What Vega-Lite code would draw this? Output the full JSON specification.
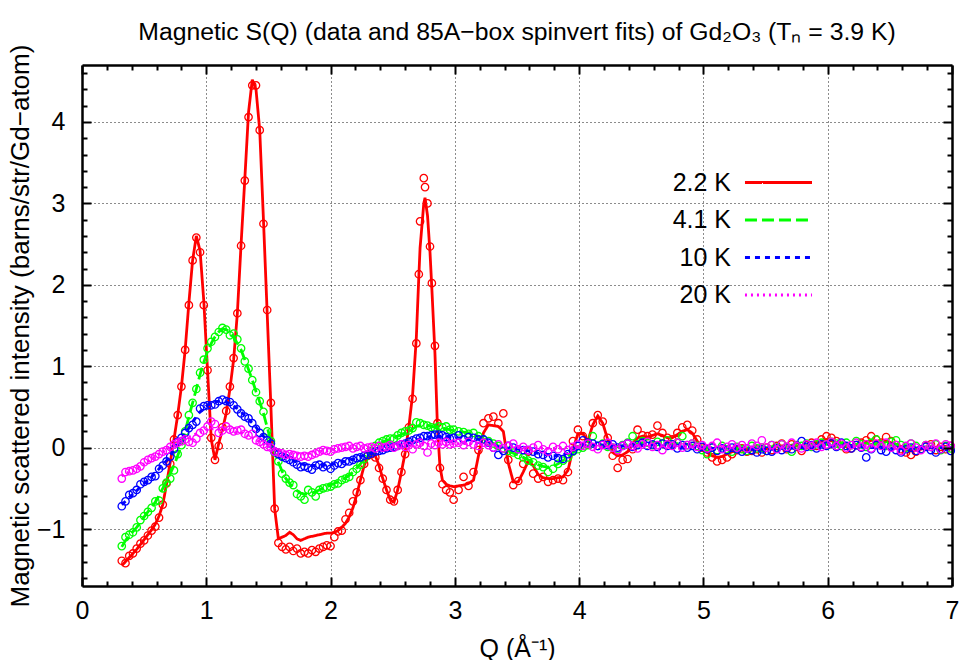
{
"$schema":"https://vega.github.io/schema/vega-lite/v6.json",
"width":870,"height":521,
"autosize":{"type":"none"},
"padding":{"left":82,"top":65,"right":10,"bottom":74},
"background":"white",
"title":{"text":"Magnetic S(Q) (data and 85A−box spinvert fits) of Gd₂O₃ (Tₙ = 3.9 K)","font":"Liberation Sans","fontSize":24.75,"fontWeight":"normal","color":"#000","anchor":"middle","frame":"group","baseline":"alphabetic","offset":-21},
"config":{
"view":{"stroke":null},
"font":"Liberation Sans",
"axis":{"labelFont":"Liberation Sans","titleFont":"Liberation Sans","labelFontSize":25,"titleFontSize":25,"titleFontWeight":"normal","labelColor":"#000","titleColor":"#000","domainColor":"#000","domainWidth":2.5,"tickColor":"#000","tickWidth":2,"grid":false,"gridColor":"#000","gridDash":[1,3],"gridWidth":1,"gridOpacity":0.9,"labelFlush":false,"labelOverlap":false},
"legend":{"orient":"none","legendX":684,"legendY":105,"symbolSize":281,"symbolStrokeWidth":2.8,"labelFontSize":25,"labelFont":"Liberation Sans","labelColor":"#000","labelAlign":"right","labelOffset":-60,"rowPadding":11.5,"padding":0}
},
"data":{"values":[
{"s":"2.2 K","q":0.32,"d":-1.39,"f":-1.45},{"s":"2.2 K","q":0.35,"d":-1.42,"f":-1.40},{"s":"2.2 K","q":0.38,"d":-1.33,"f":-1.35},{"s":"2.2 K","q":0.41,"d":-1.30,"f":-1.30},{"s":"2.2 K","q":0.44,"d":-1.24,"f":-1.25},{"s":"2.2 K","q":0.47,"d":-1.18,"f":-1.19},{"s":"2.2 K","q":0.50,"d":-1.14,"f":-1.13},{"s":"2.2 K","q":0.53,"d":-1.08,"f":-1.07},{"s":"2.2 K","q":0.56,"d":-1.02,"f":-1.01},{"s":"2.2 K","q":0.59,"d":-0.97,"f":-0.94},
{"s":"2.2 K","q":0.62,"d":-0.86,"f":-0.84},{"s":"2.2 K","q":0.65,"d":-0.70,"f":-0.70},{"s":"2.2 K","q":0.68,"d":-0.44,"f":-0.45},{"s":"2.2 K","q":0.71,"d":-0.20,"f":-0.18},{"s":"2.2 K","q":0.74,"d":0.10,"f":0.10},{"s":"2.2 K","q":0.77,"d":0.40,"f":0.40},{"s":"2.2 K","q":0.80,"d":0.75,"f":0.75},{"s":"2.2 K","q":0.83,"d":1.20,"f":1.20},{"s":"2.2 K","q":0.86,"d":1.75,"f":1.78},{"s":"2.2 K","q":0.89,"d":2.30,"f":2.30},
{"s":"2.2 K","q":0.92,"d":2.58,"f":2.60},{"s":"2.2 K","q":0.95,"d":2.40,"f":2.42},{"s":"2.2 K","q":0.98,"d":1.75,"f":1.80},{"s":"2.2 K","q":1.01,"d":0.95,"f":0.95},{"s":"2.2 K","q":1.04,"d":0.12,"f":0.10},{"s":"2.2 K","q":1.07,"d":-0.15,"f":-0.15},{"s":"2.2 K","q":1.10,"d":0.02,"f":0.05},{"s":"2.2 K","q":1.13,"d":0.25,"f":0.22},{"s":"2.2 K","q":1.16,"d":0.45,"f":0.42},{"s":"2.2 K","q":1.19,"d":0.75,"f":0.72},
{"s":"2.2 K","q":1.22,"d":1.10,"f":1.08},{"s":"2.2 K","q":1.25,"d":1.65,"f":1.65},{"s":"2.2 K","q":1.28,"d":2.48,"f":2.50},{"s":"2.2 K","q":1.31,"d":3.28,"f":3.30},{"s":"2.2 K","q":1.34,"d":4.06,"f":4.12},{"s":"2.2 K","q":1.37,"d":4.45,"f":4.52},{"s":"2.2 K","q":1.40,"d":4.45,"f":4.40},{"s":"2.2 K","q":1.43,"d":3.90,"f":3.90},{"s":"2.2 K","q":1.46,"d":2.75,"f":2.80},{"s":"2.2 K","q":1.49,"d":1.69,"f":1.65},
{"s":"2.2 K","q":1.52,"d":0.55,"f":0.50},{"s":"2.2 K","q":1.55,"d":-0.75,"f":-0.75},{"s":"2.2 K","q":1.58,"d":-1.17,"f":-1.12},{"s":"2.2 K","q":1.61,"d":-1.22,"f":-1.10},{"s":"2.2 K","q":1.64,"d":-1.25,"f":-1.08},{"s":"2.2 K","q":1.67,"d":-1.22,"f":-1.04},{"s":"2.2 K","q":1.70,"d":-1.27,"f":-1.07},{"s":"2.2 K","q":1.73,"d":-1.24,"f":-1.12},{"s":"2.2 K","q":1.76,"d":-1.30,"f":-1.14},{"s":"2.2 K","q":1.79,"d":-1.28,"f":-1.12},
{"s":"2.2 K","q":1.82,"d":-1.30,"f":-1.10},{"s":"2.2 K","q":1.85,"d":-1.26,"f":-1.09},{"s":"2.2 K","q":1.88,"d":-1.28,"f":-1.08},{"s":"2.2 K","q":1.91,"d":-1.24,"f":-1.07},{"s":"2.2 K","q":1.94,"d":-1.22,"f":-1.06},{"s":"2.2 K","q":1.97,"d":-1.20,"f":-1.05},{"s":"2.2 K","q":2.00,"d":-1.21,"f":-1.05},{"s":"2.2 K","q":2.03,"d":-1.10,"f":-1.04},{"s":"2.2 K","q":2.06,"d":-1.03,"f":-1.02},{"s":"2.2 K","q":2.09,"d":-1.02,"f":-0.98},
{"s":"2.2 K","q":2.12,"d":-0.88,"f":-0.93},{"s":"2.2 K","q":2.15,"d":-0.80,"f":-0.85},{"s":"2.2 K","q":2.18,"d":-0.66,"f":-0.74},{"s":"2.2 K","q":2.21,"d":-0.55,"f":-0.58},{"s":"2.2 K","q":2.24,"d":-0.40,"f":-0.40},{"s":"2.2 K","q":2.27,"d":-0.20,"f":-0.22},{"s":"2.2 K","q":2.30,"d":-0.10,"f":-0.12},{"s":"2.2 K","q":2.33,"d":-0.08,"f":-0.08},{"s":"2.2 K","q":2.36,"d":-0.12,"f":-0.10},{"s":"2.2 K","q":2.39,"d":-0.25,"f":-0.22},
{"s":"2.2 K","q":2.42,"d":-0.38,"f":-0.38},{"s":"2.2 K","q":2.45,"d":-0.52,"f":-0.52},{"s":"2.2 K","q":2.48,"d":-0.64,"f":-0.64},{"s":"2.2 K","q":2.51,"d":-0.66,"f":-0.67},{"s":"2.2 K","q":2.54,"d":-0.52,"f":-0.52},{"s":"2.2 K","q":2.57,"d":-0.30,"f":-0.30},{"s":"2.2 K","q":2.60,"d":-0.08,"f":-0.06},{"s":"2.2 K","q":2.63,"d":0.25,"f":0.26},{"s":"2.2 K","q":2.66,"d":0.60,"f":0.65},{"s":"2.2 K","q":2.69,"d":1.28,"f":1.35},
{"s":"2.2 K","q":2.71,"d":2.13,"f":2.10},{"s":"2.2 K","q":2.72,"d":2.78,"f":2.45},{"s":"2.2 K","q":2.75,"d":3.31,"f":3.00},{"s":"2.2 K","q":2.76,"d":3.20,"f":3.07},{"s":"2.2 K","q":2.78,"d":3.00,"f":2.85},{"s":"2.2 K","q":2.80,"d":2.47,"f":2.40},{"s":"2.2 K","q":2.815,"d":2.02,"f":1.95},{"s":"2.2 K","q":2.84,"d":1.25,"f":1.15},{"s":"2.2 K","q":2.86,"d":0.30,"f":0.25},{"s":"2.2 K","q":2.88,"d":-0.25,"f":-0.23},
{"s":"2.2 K","q":2.90,"d":-0.45,"f":-0.40},{"s":"2.2 K","q":2.93,"d":-0.52,"f":-0.45},{"s":"2.2 K","q":2.96,"d":-0.55,"f":-0.47},{"s":"2.2 K","q":2.99,"d":-0.64,"f":-0.48},
{"s":"2.2 K","q":3.03,"d":-0.52,"f":-0.47},{"s":"2.2 K","q":3.07,"d":-0.36,"f":-0.46},{"s":"2.2 K","q":3.11,"d":-0.47,"f":-0.44},{"s":"2.2 K","q":3.15,"d":-0.30,"f":-0.40},{"s":"2.2 K","q":3.19,"d":-0.03,"f":-0.10},{"s":"2.2 K","q":3.23,"d":0.30,"f":0.18},{"s":"2.2 K","q":3.27,"d":0.36,"f":0.28},{"s":"2.2 K","q":3.31,"d":0.38,"f":0.27},{"s":"2.2 K","q":3.35,"d":0.30,"f":0.26},{"s":"2.2 K","q":3.39,"d":0.42,"f":0.20},
{"s":"2.2 K","q":3.43,"d":-0.15,"f":-0.19},{"s":"2.2 K","q":3.47,"d":-0.46,"f":-0.42},{"s":"2.2 K","q":3.51,"d":-0.41,"f":-0.42},{"s":"2.2 K","q":3.55,"d":-0.20,"f":-0.30},{"s":"2.2 K","q":3.59,"d":-0.05,"f":-0.17},{"s":"2.2 K","q":3.63,"d":-0.32,"f":-0.22},{"s":"2.2 K","q":3.67,"d":-0.38,"f":-0.33},{"s":"2.2 K","q":3.71,"d":-0.36,"f":-0.37},{"s":"2.2 K","q":3.75,"d":-0.42,"f":-0.38},{"s":"2.2 K","q":3.79,"d":-0.40,"f":-0.38},
{"s":"2.2 K","q":3.83,"d":-0.38,"f":-0.37},{"s":"2.2 K","q":3.87,"d":-0.40,"f":-0.36},{"s":"2.2 K","q":3.91,"d":-0.30,"f":-0.28},{"s":"2.2 K","q":3.95,"d":0.08,"f":-0.02},{"s":"2.2 K","q":3.99,"d":0.22,"f":0.17},{"s":"2.2 K","q":4.03,"d":0.14,"f":0.17},{"s":"2.2 K","q":4.07,"d":0.04,"f":0.08},{"s":"2.2 K","q":4.11,"d":0.30,"f":0.28},{"s":"2.2 K","q":4.15,"d":0.40,"f":0.39},{"s":"2.2 K","q":4.19,"d":0.32,"f":0.30},
{"s":"2.2 K","q":4.23,"d":0.12,"f":0.10},{"s":"2.2 K","q":4.27,"d":-0.10,"f":-0.06},{"s":"2.2 K","q":4.31,"d":-0.25,"f":-0.10},{"s":"2.2 K","q":4.35,"d":-0.15,"f":-0.09},{"s":"2.2 K","q":4.39,"d":-0.14,"f":-0.05},{"s":"2.2 K","q":4.43,"d":-0.02,"f":0.05},{"s":"2.2 K","q":4.47,"d":0.22,"f":0.12},{"s":"2.2 K","q":4.51,"d":0.15,"f":0.14},{"s":"2.2 K","q":4.55,"d":0.14,"f":0.13},{"s":"2.2 K","q":4.59,"d":0.16,"f":0.15},
{"s":"2.2 K","q":4.63,"d":0.27,"f":0.17},{"s":"2.2 K","q":4.67,"d":0.18,"f":0.15},{"s":"2.2 K","q":4.71,"d":0.12,"f":0.12},{"s":"2.2 K","q":4.75,"d":0.10,"f":0.12},{"s":"2.2 K","q":4.79,"d":0.18,"f":0.16},{"s":"2.2 K","q":4.83,"d":0.25,"f":0.20},{"s":"2.2 K","q":4.87,"d":0.28,"f":0.22},{"s":"2.2 K","q":4.91,"d":0.21,"f":0.18},{"s":"2.2 K","q":4.95,"d":0.10,"f":0.08},{"s":"2.2 K","q":4.99,"d":0.00,"f":-0.02},
{"s":"2.2 K","q":5.03,"d":-0.06,"f":-0.06},{"s":"2.2 K","q":5.07,"d":-0.12,"f":-0.10},{"s":"2.2 K","q":5.11,"d":-0.17,"f":-0.12},{"s":"2.2 K","q":5.15,"d":-0.15,"f":-0.11},{"s":"2.2 K","q":5.19,"d":-0.12,"f":-0.08},{"s":"2.2 K","q":5.23,"d":-0.08,"f":-0.05},{"s":"2.2 K","q":5.27,"d":-0.03,"f":-0.03},{"s":"2.2 K","q":5.31,"d":-0.01,"f":-0.02},{"s":"2.2 K","q":5.35,"d":-0.05,"f":-0.03},{"s":"2.2 K","q":5.39,"d":-0.04,"f":-0.03},
{"s":"2.2 K","q":5.43,"d":-0.02,"f":-0.02},{"s":"2.2 K","q":5.47,"d":-0.06,"f":-0.03},{"s":"2.2 K","q":5.51,"d":0.00,"f":-0.01},{"s":"2.2 K","q":5.55,"d":-0.03,"f":0.00},{"s":"2.2 K","q":5.59,"d":0.02,"f":0.01},{"s":"2.2 K","q":5.63,"d":0.05,"f":0.02},{"s":"2.2 K","q":5.67,"d":-0.02,"f":0.02},{"s":"2.2 K","q":5.71,"d":0.04,"f":0.03},{"s":"2.2 K","q":5.75,"d":0.01,"f":0.02},{"s":"2.2 K","q":5.79,"d":-0.04,"f":0.02},
{"s":"2.2 K","q":5.83,"d":0.03,"f":0.03},{"s":"2.2 K","q":5.87,"d":0.06,"f":0.05},{"s":"2.2 K","q":5.91,"d":0.02,"f":0.06},{"s":"2.2 K","q":5.95,"d":0.10,"f":0.08},{"s":"2.2 K","q":5.99,"d":0.14,"f":0.10},{"s":"2.2 K","q":6.03,"d":0.12,"f":0.09},{"s":"2.2 K","q":6.07,"d":0.08,"f":0.06},{"s":"2.2 K","q":6.11,"d":0.02,"f":0.03},{"s":"2.2 K","q":6.15,"d":-0.02,"f":0.01},{"s":"2.2 K","q":6.19,"d":-0.01,"f":0.01},
{"s":"2.2 K","q":6.23,"d":0.03,"f":0.03},{"s":"2.2 K","q":6.27,"d":0.06,"f":0.04},{"s":"2.2 K","q":6.31,"d":0.09,"f":0.07},{"s":"2.2 K","q":6.35,"d":0.14,"f":0.09},{"s":"2.2 K","q":6.39,"d":0.10,"f":0.08},{"s":"2.2 K","q":6.43,"d":0.06,"f":0.07},{"s":"2.2 K","q":6.47,"d":0.13,"f":0.08},{"s":"2.2 K","q":6.51,"d":0.08,"f":0.06},{"s":"2.2 K","q":6.55,"d":0.03,"f":0.04},{"s":"2.2 K","q":6.59,"d":-0.02,"f":0.01},
{"s":"2.2 K","q":6.63,"d":-0.06,"f":-0.02},{"s":"2.2 K","q":6.67,"d":-0.09,"f":-0.04},{"s":"2.2 K","q":6.71,"d":-0.05,"f":-0.03},{"s":"2.2 K","q":6.75,"d":-0.02,"f":-0.02},{"s":"2.2 K","q":6.79,"d":0.02,"f":0.00},{"s":"2.2 K","q":6.83,"d":0.04,"f":0.01},{"s":"2.2 K","q":6.87,"d":-0.03,"f":0.00},{"s":"2.2 K","q":6.91,"d":0.01,"f":0.00},{"s":"2.2 K","q":6.95,"d":-0.02,"f":-0.01},{"s":"2.2 K","q":6.99,"d":0.02,"f":0.00},

{"s":"4.1 K","q":0.32,"d":-1.21,"f":-1.22},{"s":"4.1 K","q":0.35,"d":-1.10,"f":-1.14},{"s":"4.1 K","q":0.38,"d":-1.07,"f":-1.08},{"s":"4.1 K","q":0.41,"d":-1.04,"f":-1.03},{"s":"4.1 K","q":0.44,"d":-0.98,"f":-0.98},{"s":"4.1 K","q":0.47,"d":-0.89,"f":-0.92},{"s":"4.1 K","q":0.50,"d":-0.84,"f":-0.85},{"s":"4.1 K","q":0.53,"d":-0.79,"f":-0.79},{"s":"4.1 K","q":0.56,"d":-0.74,"f":-0.73},{"s":"4.1 K","q":0.59,"d":-0.66,"f":-0.67},
{"s":"4.1 K","q":0.62,"d":-0.65,"f":-0.59},{"s":"4.1 K","q":0.65,"d":-0.50,"f":-0.50},{"s":"4.1 K","q":0.68,"d":-0.43,"f":-0.41},{"s":"4.1 K","q":0.71,"d":-0.38,"f":-0.32},{"s":"4.1 K","q":0.74,"d":-0.28,"f":-0.22},{"s":"4.1 K","q":0.77,"d":-0.08,"f":-0.10},{"s":"4.1 K","q":0.80,"d":0.03,"f":0.03},{"s":"4.1 K","q":0.83,"d":0.20,"f":0.20},{"s":"4.1 K","q":0.86,"d":0.40,"f":0.38},{"s":"4.1 K","q":0.89,"d":0.55,"f":0.55},
{"s":"4.1 K","q":0.92,"d":0.72,"f":0.72},{"s":"4.1 K","q":0.95,"d":0.92,"f":0.90},{"s":"4.1 K","q":0.98,"d":1.08,"f":1.05},{"s":"4.1 K","q":1.01,"d":1.22,"f":1.18},{"s":"4.1 K","q":1.04,"d":1.30,"f":1.28},{"s":"4.1 K","q":1.07,"d":1.36,"f":1.36},{"s":"4.1 K","q":1.10,"d":1.42,"f":1.42},{"s":"4.1 K","q":1.13,"d":1.47,"f":1.46},{"s":"4.1 K","q":1.16,"d":1.45,"f":1.45},{"s":"4.1 K","q":1.19,"d":1.38,"f":1.42},
{"s":"4.1 K","q":1.22,"d":1.40,"f":1.36},{"s":"4.1 K","q":1.25,"d":1.33,"f":1.28},{"s":"4.1 K","q":1.28,"d":1.22,"f":1.20},{"s":"4.1 K","q":1.31,"d":1.06,"f":1.08},{"s":"4.1 K","q":1.34,"d":0.97,"f":0.96},{"s":"4.1 K","q":1.37,"d":0.83,"f":0.83},{"s":"4.1 K","q":1.40,"d":0.68,"f":0.69},{"s":"4.1 K","q":1.43,"d":0.57,"f":0.56},{"s":"4.1 K","q":1.46,"d":0.44,"f":0.42},{"s":"4.1 K","q":1.49,"d":0.20,"f":0.25},
{"s":"4.1 K","q":1.52,"d":0.08,"f":0.08},{"s":"4.1 K","q":1.55,"d":-0.06,"f":-0.06},{"s":"4.1 K","q":1.58,"d":-0.17,"f":-0.18},{"s":"4.1 K","q":1.61,"d":-0.32,"f":-0.29},{"s":"4.1 K","q":1.64,"d":-0.38,"f":-0.38},{"s":"4.1 K","q":1.67,"d":-0.43,"f":-0.44},{"s":"4.1 K","q":1.70,"d":-0.46,"f":-0.49},{"s":"4.1 K","q":1.73,"d":-0.57,"f":-0.53},{"s":"4.1 K","q":1.76,"d":-0.60,"f":-0.56},{"s":"4.1 K","q":1.79,"d":-0.64,"f":-0.57},
{"s":"4.1 K","q":1.82,"d":-0.52,"f":-0.57},{"s":"4.1 K","q":1.85,"d":-0.55,"f":-0.56},{"s":"4.1 K","q":1.88,"d":-0.60,"f":-0.54},{"s":"4.1 K","q":1.91,"d":-0.52,"f":-0.52},{"s":"4.1 K","q":1.94,"d":-0.50,"f":-0.50},{"s":"4.1 K","q":1.97,"d":-0.49,"f":-0.48},{"s":"4.1 K","q":2.00,"d":-0.48,"f":-0.46},{"s":"4.1 K","q":2.03,"d":-0.45,"f":-0.44},{"s":"4.1 K","q":2.06,"d":-0.44,"f":-0.42},{"s":"4.1 K","q":2.09,"d":-0.40,"f":-0.40},
{"s":"4.1 K","q":2.12,"d":-0.38,"f":-0.37},{"s":"4.1 K","q":2.15,"d":-0.36,"f":-0.34},{"s":"4.1 K","q":2.18,"d":-0.30,"f":-0.30},{"s":"4.1 K","q":2.21,"d":-0.26,"f":-0.25},{"s":"4.1 K","q":2.24,"d":-0.21,"f":-0.20},{"s":"4.1 K","q":2.27,"d":-0.14,"f":-0.15},{"s":"4.1 K","q":2.30,"d":-0.09,"f":-0.10},{"s":"4.1 K","q":2.33,"d":-0.04,"f":-0.05},{"s":"4.1 K","q":2.36,"d":0.02,"f":0.00},{"s":"4.1 K","q":2.39,"d":0.06,"f":0.04},
{"s":"4.1 K","q":2.42,"d":0.08,"f":0.07},{"s":"4.1 K","q":2.45,"d":0.10,"f":0.09},{"s":"4.1 K","q":2.48,"d":0.11,"f":0.10},{"s":"4.1 K","q":2.51,"d":0.11,"f":0.12},{"s":"4.1 K","q":2.54,"d":0.15,"f":0.14},{"s":"4.1 K","q":2.57,"d":0.18,"f":0.16},{"s":"4.1 K","q":2.60,"d":0.20,"f":0.18},{"s":"4.1 K","q":2.63,"d":0.21,"f":0.20},{"s":"4.1 K","q":2.66,"d":0.24,"f":0.23},{"s":"4.1 K","q":2.69,"d":0.31,"f":0.26},
{"s":"4.1 K","q":2.72,"d":0.30,"f":0.27},{"s":"4.1 K","q":2.75,"d":0.28,"f":0.27},{"s":"4.1 K","q":2.78,"d":0.27,"f":0.27},{"s":"4.1 K","q":2.81,"d":0.25,"f":0.26},{"s":"4.1 K","q":2.84,"d":0.24,"f":0.25},{"s":"4.1 K","q":2.87,"d":0.26,"f":0.25},{"s":"4.1 K","q":2.90,"d":0.25,"f":0.24},{"s":"4.1 K","q":2.93,"d":0.26,"f":0.23},{"s":"4.1 K","q":2.96,"d":0.22,"f":0.22},{"s":"4.1 K","q":2.99,"d":0.22,"f":0.21},
{"s":"4.1 K","q":3.03,"d":0.20,"f":0.20},{"s":"4.1 K","q":3.07,"d":0.19,"f":0.19},{"s":"4.1 K","q":3.11,"d":0.17,"f":0.18},{"s":"4.1 K","q":3.15,"d":0.18,"f":0.16},{"s":"4.1 K","q":3.19,"d":0.14,"f":0.14},{"s":"4.1 K","q":3.23,"d":0.10,"f":0.11},{"s":"4.1 K","q":3.27,"d":0.08,"f":0.08},{"s":"4.1 K","q":3.31,"d":0.05,"f":0.05},{"s":"4.1 K","q":3.35,"d":0.02,"f":0.02},{"s":"4.1 K","q":3.39,"d":-0.01,"f":-0.01},
{"s":"4.1 K","q":3.43,"d":-0.04,"f":-0.04},{"s":"4.1 K","q":3.47,"d":-0.06,"f":-0.07},{"s":"4.1 K","q":3.51,"d":-0.09,"f":-0.09},{"s":"4.1 K","q":3.55,"d":-0.12,"f":-0.12},{"s":"4.1 K","q":3.59,"d":-0.16,"f":-0.15},{"s":"4.1 K","q":3.63,"d":-0.18,"f":-0.18},{"s":"4.1 K","q":3.67,"d":-0.22,"f":-0.21},{"s":"4.1 K","q":3.71,"d":-0.24,"f":-0.23},{"s":"4.1 K","q":3.75,"d":-0.30,"f":-0.24},{"s":"4.1 K","q":3.79,"d":-0.26,"f":-0.23},
{"s":"4.1 K","q":3.83,"d":-0.20,"f":-0.20},{"s":"4.1 K","q":3.87,"d":-0.16,"f":-0.16},{"s":"4.1 K","q":3.91,"d":-0.12,"f":-0.11},{"s":"4.1 K","q":3.95,"d":-0.05,"f":-0.06},{"s":"4.1 K","q":3.99,"d":-0.02,"f":-0.02},{"s":"4.1 K","q":4.03,"d":0.00,"f":0.01},{"s":"4.1 K","q":4.07,"d":0.03,"f":0.02},{"s":"4.1 K","q":4.11,"d":0.14,"f":0.03},{"s":"4.1 K","q":4.15,"d":0.02,"f":0.03},{"s":"4.1 K","q":4.19,"d":0.05,"f":0.03},
{"s":"4.1 K","q":4.23,"d":0.01,"f":0.02},{"s":"4.1 K","q":4.27,"d":0.00,"f":0.01},{"s":"4.1 K","q":4.31,"d":-0.02,"f":0.01},{"s":"4.1 K","q":4.35,"d":0.03,"f":0.02},{"s":"4.1 K","q":4.39,"d":0.06,"f":0.03},{"s":"4.1 K","q":4.43,"d":0.14,"f":0.04},{"s":"4.1 K","q":4.47,"d":0.04,"f":0.05},{"s":"4.1 K","q":4.51,"d":0.08,"f":0.06},{"s":"4.1 K","q":4.55,"d":0.06,"f":0.06},{"s":"4.1 K","q":4.59,"d":0.03,"f":0.06},
{"s":"4.1 K","q":4.63,"d":0.07,"f":0.06},{"s":"4.1 K","q":4.67,"d":0.05,"f":0.06},{"s":"4.1 K","q":4.71,"d":0.09,"f":0.06},{"s":"4.1 K","q":4.75,"d":0.04,"f":0.05},{"s":"4.1 K","q":4.79,"d":0.06,"f":0.05},{"s":"4.1 K","q":4.83,"d":0.14,"f":0.05},{"s":"4.1 K","q":4.87,"d":0.03,"f":0.04},{"s":"4.1 K","q":4.91,"d":0.05,"f":0.03},{"s":"4.1 K","q":4.95,"d":0.02,"f":0.02},{"s":"4.1 K","q":4.99,"d":-0.03,"f":0.01},
{"s":"4.1 K","q":5.03,"d":-0.08,"f":0.00},{"s":"4.1 K","q":5.07,"d":0.00,"f":0.00},{"s":"4.1 K","q":5.11,"d":-0.03,"f":-0.01},{"s":"4.1 K","q":5.15,"d":0.02,"f":-0.01},{"s":"4.1 K","q":5.19,"d":-0.02,"f":-0.01},{"s":"4.1 K","q":5.23,"d":-0.05,"f":-0.01},{"s":"4.1 K","q":5.27,"d":0.01,"f":-0.01},{"s":"4.1 K","q":5.31,"d":-0.02,"f":0.00},{"s":"4.1 K","q":5.35,"d":-0.04,"f":0.00},{"s":"4.1 K","q":5.39,"d":0.02,"f":0.00},
{"s":"4.1 K","q":5.43,"d":-0.01,"f":0.00},{"s":"4.1 K","q":5.47,"d":0.00,"f":0.01},{"s":"4.1 K","q":5.51,"d":-0.04,"f":0.01},{"s":"4.1 K","q":5.55,"d":0.03,"f":0.01},{"s":"4.1 K","q":5.59,"d":0.00,"f":0.02},{"s":"4.1 K","q":5.63,"d":0.04,"f":0.02},{"s":"4.1 K","q":5.67,"d":0.01,"f":0.02},{"s":"4.1 K","q":5.71,"d":-0.05,"f":0.02},{"s":"4.1 K","q":5.75,"d":0.03,"f":0.03},{"s":"4.1 K","q":5.79,"d":0.02,"f":0.03},
{"s":"4.1 K","q":5.83,"d":0.05,"f":0.03},{"s":"4.1 K","q":5.87,"d":0.01,"f":0.03},{"s":"4.1 K","q":5.91,"d":0.04,"f":0.03},{"s":"4.1 K","q":5.95,"d":0.06,"f":0.04},{"s":"4.1 K","q":5.99,"d":0.03,"f":0.04},{"s":"4.1 K","q":6.03,"d":0.07,"f":0.04},{"s":"4.1 K","q":6.07,"d":0.05,"f":0.04},{"s":"4.1 K","q":6.11,"d":0.02,"f":0.04},{"s":"4.1 K","q":6.15,"d":0.06,"f":0.04},{"s":"4.1 K","q":6.19,"d":0.03,"f":0.04},
{"s":"4.1 K","q":6.23,"d":0.08,"f":0.04},{"s":"4.1 K","q":6.27,"d":0.04,"f":0.04},{"s":"4.1 K","q":6.31,"d":0.01,"f":0.04},{"s":"4.1 K","q":6.35,"d":0.06,"f":0.04},{"s":"4.1 K","q":6.39,"d":0.10,"f":0.04},{"s":"4.1 K","q":6.43,"d":0.04,"f":0.04},{"s":"4.1 K","q":6.47,"d":0.02,"f":0.03},{"s":"4.1 K","q":6.51,"d":0.07,"f":0.03},{"s":"4.1 K","q":6.55,"d":0.09,"f":0.03},{"s":"4.1 K","q":6.59,"d":0.03,"f":0.03},
{"s":"4.1 K","q":6.63,"d":0.00,"f":0.02},{"s":"4.1 K","q":6.67,"d":0.05,"f":0.02},{"s":"4.1 K","q":6.71,"d":0.02,"f":0.02},{"s":"4.1 K","q":6.75,"d":-0.02,"f":0.01},{"s":"4.1 K","q":6.79,"d":0.03,"f":0.01},{"s":"4.1 K","q":6.83,"d":0.01,"f":0.01},{"s":"4.1 K","q":6.87,"d":0.04,"f":0.01},{"s":"4.1 K","q":6.91,"d":-0.03,"f":0.00},{"s":"4.1 K","q":6.95,"d":0.02,"f":0.00},{"s":"4.1 K","q":6.99,"d":-0.01,"f":0.00},

{"s":"10 K","q":0.32,"d":-0.72,"f":-0.70},{"s":"10 K","q":0.35,"d":-0.66,"f":-0.66},{"s":"10 K","q":0.38,"d":-0.58,"f":-0.61},{"s":"10 K","q":0.41,"d":-0.56,"f":-0.57},{"s":"10 K","q":0.44,"d":-0.52,"f":-0.53},{"s":"10 K","q":0.47,"d":-0.45,"f":-0.48},{"s":"10 K","q":0.50,"d":-0.42,"f":-0.44},{"s":"10 K","q":0.53,"d":-0.40,"f":-0.40},{"s":"10 K","q":0.56,"d":-0.36,"f":-0.36},{"s":"10 K","q":0.59,"d":-0.35,"f":-0.31},
{"s":"10 K","q":0.62,"d":-0.26,"f":-0.26},{"s":"10 K","q":0.65,"d":-0.22,"f":-0.21},{"s":"10 K","q":0.68,"d":-0.17,"f":-0.16},{"s":"10 K","q":0.71,"d":-0.11,"f":-0.10},{"s":"10 K","q":0.74,"d":-0.02,"f":-0.03},{"s":"10 K","q":0.77,"d":0.07,"f":0.04},{"s":"10 K","q":0.80,"d":0.12,"f":0.10},{"s":"10 K","q":0.83,"d":0.18,"f":0.17},{"s":"10 K","q":0.86,"d":0.24,"f":0.24},{"s":"10 K","q":0.89,"d":0.28,"f":0.31},
{"s":"10 K","q":0.92,"d":0.32,"f":0.38},{"s":"10 K","q":0.95,"d":0.48,"f":0.44},{"s":"10 K","q":0.98,"d":0.51,"f":0.49},{"s":"10 K","q":1.01,"d":0.52,"f":0.52},{"s":"10 K","q":1.04,"d":0.52,"f":0.54},{"s":"10 K","q":1.07,"d":0.53,"f":0.56},{"s":"10 K","q":1.10,"d":0.57,"f":0.57},{"s":"10 K","q":1.13,"d":0.59,"f":0.57},{"s":"10 K","q":1.16,"d":0.57,"f":0.56},{"s":"10 K","q":1.19,"d":0.56,"f":0.54},
{"s":"10 K","q":1.22,"d":0.52,"f":0.51},{"s":"10 K","q":1.25,"d":0.47,"f":0.48},{"s":"10 K","q":1.28,"d":0.42,"f":0.44},{"s":"10 K","q":1.31,"d":0.38,"f":0.39},{"s":"10 K","q":1.34,"d":0.36,"f":0.35},{"s":"10 K","q":1.37,"d":0.30,"f":0.30},{"s":"10 K","q":1.40,"d":0.23,"f":0.25},{"s":"10 K","q":1.43,"d":0.18,"f":0.19},{"s":"10 K","q":1.46,"d":0.13,"f":0.14},{"s":"10 K","q":1.49,"d":0.09,"f":0.09},
{"s":"10 K","q":1.52,"d":0.05,"f":0.04},{"s":"10 K","q":1.55,"d":-0.05,"f":0.00},{"s":"10 K","q":1.58,"d":-0.08,"f":-0.04},{"s":"10 K","q":1.61,"d":-0.11,"f":-0.08},{"s":"10 K","q":1.64,"d":-0.13,"f":-0.11},{"s":"10 K","q":1.67,"d":-0.15,"f":-0.14},{"s":"10 K","q":1.70,"d":-0.18,"f":-0.16},{"s":"10 K","q":1.73,"d":-0.21,"f":-0.18},{"s":"10 K","q":1.76,"d":-0.24,"f":-0.20},{"s":"10 K","q":1.79,"d":-0.23,"f":-0.21},
{"s":"10 K","q":1.82,"d":-0.25,"f":-0.22},{"s":"10 K","q":1.85,"d":-0.27,"f":-0.22},{"s":"10 K","q":1.88,"d":-0.22,"f":-0.22},{"s":"10 K","q":1.91,"d":-0.21,"f":-0.22},{"s":"10 K","q":1.94,"d":-0.24,"f":-0.22},{"s":"10 K","q":1.97,"d":-0.22,"f":-0.21},{"s":"10 K","q":2.00,"d":-0.26,"f":-0.21},{"s":"10 K","q":2.03,"d":-0.22,"f":-0.20},{"s":"10 K","q":2.06,"d":-0.19,"f":-0.19},{"s":"10 K","q":2.09,"d":-0.20,"f":-0.18},
{"s":"10 K","q":2.12,"d":-0.17,"f":-0.17},{"s":"10 K","q":2.15,"d":-0.17,"f":-0.16},{"s":"10 K","q":2.18,"d":-0.15,"f":-0.14},{"s":"10 K","q":2.21,"d":-0.13,"f":-0.13},{"s":"10 K","q":2.24,"d":-0.12,"f":-0.11},{"s":"10 K","q":2.27,"d":-0.10,"f":-0.10},{"s":"10 K","q":2.30,"d":-0.09,"f":-0.08},{"s":"10 K","q":2.33,"d":-0.07,"f":-0.07},{"s":"10 K","q":2.36,"d":-0.05,"f":-0.05},{"s":"10 K","q":2.39,"d":-0.04,"f":-0.04},
{"s":"10 K","q":2.42,"d":-0.03,"f":-0.02},{"s":"10 K","q":2.45,"d":-0.01,"f":-0.01},{"s":"10 K","q":2.48,"d":0.00,"f":0.00},{"s":"10 K","q":2.51,"d":0.01,"f":0.01},{"s":"10 K","q":2.54,"d":0.02,"f":0.02},{"s":"10 K","q":2.57,"d":0.04,"f":0.03},{"s":"10 K","q":2.60,"d":0.05,"f":0.05},{"s":"10 K","q":2.63,"d":0.07,"f":0.06},{"s":"10 K","q":2.66,"d":0.09,"f":0.08},{"s":"10 K","q":2.69,"d":0.11,"f":0.09},
{"s":"10 K","q":2.72,"d":0.12,"f":0.11},{"s":"10 K","q":2.75,"d":0.14,"f":0.12},{"s":"10 K","q":2.78,"d":0.14,"f":0.13},{"s":"10 K","q":2.81,"d":0.15,"f":0.14},{"s":"10 K","q":2.84,"d":0.16,"f":0.14},{"s":"10 K","q":2.87,"d":0.16,"f":0.14},{"s":"10 K","q":2.90,"d":0.15,"f":0.14},{"s":"10 K","q":2.93,"d":0.13,"f":0.14},{"s":"10 K","q":2.96,"d":0.11,"f":0.13},{"s":"10 K","q":2.99,"d":0.12,"f":0.13},
{"s":"10 K","q":3.03,"d":0.15,"f":0.12},{"s":"10 K","q":3.07,"d":0.10,"f":0.12},{"s":"10 K","q":3.11,"d":0.13,"f":0.11},{"s":"10 K","q":3.15,"d":0.12,"f":0.11},{"s":"10 K","q":3.19,"d":0.10,"f":0.10},{"s":"10 K","q":3.23,"d":0.10,"f":0.09},{"s":"10 K","q":3.27,"d":0.06,"f":0.07},{"s":"10 K","q":3.31,"d":0.00,"f":0.04},{"s":"10 K","q":3.35,"d":-0.09,"f":0.01},{"s":"10 K","q":3.39,"d":-0.04,"f":-0.01},
{"s":"10 K","q":3.43,"d":0.02,"f":-0.01},{"s":"10 K","q":3.47,"d":0.00,"f":-0.01},{"s":"10 K","q":3.51,"d":-0.02,"f":-0.02},{"s":"10 K","q":3.55,"d":-0.03,"f":-0.03},{"s":"10 K","q":3.59,"d":-0.03,"f":-0.04},{"s":"10 K","q":3.63,"d":-0.05,"f":-0.05},{"s":"10 K","q":3.67,"d":-0.08,"f":-0.07},{"s":"10 K","q":3.71,"d":-0.09,"f":-0.08},{"s":"10 K","q":3.75,"d":-0.12,"f":-0.09},{"s":"10 K","q":3.79,"d":-0.10,"f":-0.10},
{"s":"10 K","q":3.83,"d":-0.13,"f":-0.10},{"s":"10 K","q":3.87,"d":-0.14,"f":-0.09},{"s":"10 K","q":3.91,"d":-0.08,"f":-0.07},{"s":"10 K","q":3.95,"d":-0.04,"f":-0.04},{"s":"10 K","q":3.99,"d":0.02,"f":0.00},{"s":"10 K","q":4.03,"d":0.09,"f":0.03},{"s":"10 K","q":4.07,"d":0.06,"f":0.04},{"s":"10 K","q":4.11,"d":0.05,"f":0.04},{"s":"10 K","q":4.15,"d":0.02,"f":0.04},{"s":"10 K","q":4.19,"d":0.04,"f":0.03},
{"s":"10 K","q":4.23,"d":0.03,"f":0.03},{"s":"10 K","q":4.27,"d":0.04,"f":0.02},{"s":"10 K","q":4.31,"d":0.00,"f":0.02},{"s":"10 K","q":4.35,"d":0.02,"f":0.02},{"s":"10 K","q":4.39,"d":0.05,"f":0.02},{"s":"10 K","q":4.43,"d":0.01,"f":0.02},{"s":"10 K","q":4.47,"d":0.03,"f":0.02},{"s":"10 K","q":4.51,"d":0.06,"f":0.03},{"s":"10 K","q":4.55,"d":0.02,"f":0.03},{"s":"10 K","q":4.59,"d":0.04,"f":0.03},
{"s":"10 K","q":4.63,"d":0.01,"f":0.03},{"s":"10 K","q":4.67,"d":0.05,"f":0.02},{"s":"10 K","q":4.71,"d":0.02,"f":0.02},{"s":"10 K","q":4.75,"d":0.04,"f":0.02},{"s":"10 K","q":4.79,"d":-0.01,"f":0.02},{"s":"10 K","q":4.83,"d":0.03,"f":0.01},{"s":"10 K","q":4.87,"d":0.00,"f":0.01},{"s":"10 K","q":4.91,"d":0.02,"f":0.01},{"s":"10 K","q":4.95,"d":-0.02,"f":0.00},{"s":"10 K","q":4.99,"d":0.01,"f":0.00},
{"s":"10 K","q":5.03,"d":-0.02,"f":0.00},{"s":"10 K","q":5.07,"d":0.00,"f":-0.01},{"s":"10 K","q":5.11,"d":-0.04,"f":-0.01},{"s":"10 K","q":5.15,"d":-0.01,"f":-0.01},{"s":"10 K","q":5.19,"d":-0.03,"f":-0.01},{"s":"10 K","q":5.23,"d":0.00,"f":-0.01},{"s":"10 K","q":5.27,"d":-0.02,"f":-0.01},{"s":"10 K","q":5.31,"d":-0.05,"f":-0.02},{"s":"10 K","q":5.35,"d":-0.01,"f":-0.02},{"s":"10 K","q":5.39,"d":-0.03,"f":-0.02},
{"s":"10 K","q":5.43,"d":-0.06,"f":-0.02},{"s":"10 K","q":5.47,"d":-0.02,"f":-0.02},{"s":"10 K","q":5.51,"d":-0.04,"f":-0.02},{"s":"10 K","q":5.55,"d":-0.05,"f":-0.02},{"s":"10 K","q":5.59,"d":-0.01,"f":-0.02},{"s":"10 K","q":5.63,"d":-0.03,"f":-0.01},{"s":"10 K","q":5.67,"d":0.00,"f":-0.01},{"s":"10 K","q":5.71,"d":-0.02,"f":-0.01},{"s":"10 K","q":5.75,"d":0.02,"f":0.00},{"s":"10 K","q":5.79,"d":0.08,"f":0.00},
{"s":"10 K","q":5.83,"d":0.01,"f":0.01},{"s":"10 K","q":5.87,"d":0.03,"f":0.01},{"s":"10 K","q":5.91,"d":-0.01,"f":0.01},{"s":"10 K","q":5.95,"d":0.04,"f":0.02},{"s":"10 K","q":5.99,"d":0.02,"f":0.02},{"s":"10 K","q":6.03,"d":0.05,"f":0.02},{"s":"10 K","q":6.07,"d":0.01,"f":0.02},{"s":"10 K","q":6.11,"d":0.06,"f":0.02},{"s":"10 K","q":6.15,"d":0.02,"f":0.02},{"s":"10 K","q":6.19,"d":-0.01,"f":0.01},
{"s":"10 K","q":6.23,"d":0.03,"f":0.01},{"s":"10 K","q":6.27,"d":0.00,"f":0.01},{"s":"10 K","q":6.31,"d":-0.12,"f":0.00},{"s":"10 K","q":6.35,"d":-0.02,"f":0.00},{"s":"10 K","q":6.39,"d":0.03,"f":0.00},{"s":"10 K","q":6.43,"d":-0.03,"f":0.00},{"s":"10 K","q":6.47,"d":-0.05,"f":-0.01},{"s":"10 K","q":6.51,"d":0.01,"f":-0.01},{"s":"10 K","q":6.55,"d":-0.03,"f":-0.01},{"s":"10 K","q":6.59,"d":-0.06,"f":-0.01},
{"s":"10 K","q":6.63,"d":-0.02,"f":-0.01},{"s":"10 K","q":6.67,"d":0.00,"f":-0.01},{"s":"10 K","q":6.71,"d":-0.04,"f":-0.01},{"s":"10 K","q":6.75,"d":-0.02,"f":-0.01},{"s":"10 K","q":6.79,"d":0.01,"f":0.00},{"s":"10 K","q":6.83,"d":-0.03,"f":0.00},{"s":"10 K","q":6.87,"d":-0.06,"f":0.00},{"s":"10 K","q":6.91,"d":-0.02,"f":0.00},{"s":"10 K","q":6.95,"d":0.01,"f":0.00},{"s":"10 K","q":6.99,"d":-0.04,"f":0.00},

{"s":"20 K","q":0.32,"d":-0.38,"f":-0.35},{"s":"20 K","q":0.35,"d":-0.30,"f":-0.32},{"s":"20 K","q":0.38,"d":-0.29,"f":-0.30},{"s":"20 K","q":0.41,"d":-0.28,"f":-0.28},{"s":"20 K","q":0.44,"d":-0.26,"f":-0.26},{"s":"20 K","q":0.47,"d":-0.23,"f":-0.23},{"s":"20 K","q":0.50,"d":-0.18,"f":-0.20},{"s":"20 K","q":0.53,"d":-0.15,"f":-0.17},{"s":"20 K","q":0.56,"d":-0.13,"f":-0.14},{"s":"20 K","q":0.59,"d":-0.11,"f":-0.11},
{"s":"20 K","q":0.62,"d":-0.08,"f":-0.08},{"s":"20 K","q":0.65,"d":-0.05,"f":-0.05},{"s":"20 K","q":0.68,"d":-0.03,"f":-0.02},{"s":"20 K","q":0.71,"d":0.01,"f":0.01},{"s":"20 K","q":0.74,"d":0.04,"f":0.04},{"s":"20 K","q":0.77,"d":0.06,"f":0.07},{"s":"20 K","q":0.80,"d":0.08,"f":0.09},{"s":"20 K","q":0.83,"d":0.10,"f":0.11},{"s":"20 K","q":0.86,"d":0.07,"f":0.13},{"s":"20 K","q":0.89,"d":0.06,"f":0.15},
{"s":"20 K","q":0.92,"d":0.11,"f":0.17},{"s":"20 K","q":0.95,"d":0.18,"f":0.19},{"s":"20 K","q":0.98,"d":0.21,"f":0.21},{"s":"20 K","q":1.01,"d":0.26,"f":0.22},{"s":"20 K","q":1.04,"d":0.32,"f":0.23},{"s":"20 K","q":1.07,"d":0.29,"f":0.23},{"s":"20 K","q":1.10,"d":0.18,"f":0.23},{"s":"20 K","q":1.13,"d":0.21,"f":0.23},{"s":"20 K","q":1.16,"d":0.26,"f":0.22},{"s":"20 K","q":1.19,"d":0.22,"f":0.21},
{"s":"20 K","q":1.22,"d":0.20,"f":0.20},{"s":"20 K","q":1.25,"d":0.21,"f":0.19},{"s":"20 K","q":1.28,"d":0.22,"f":0.18},{"s":"20 K","q":1.31,"d":0.17,"f":0.16},{"s":"20 K","q":1.34,"d":0.15,"f":0.14},{"s":"20 K","q":1.37,"d":0.17,"f":0.12},{"s":"20 K","q":1.40,"d":0.09,"f":0.10},{"s":"20 K","q":1.43,"d":0.07,"f":0.07},{"s":"20 K","q":1.46,"d":0.04,"f":0.04},{"s":"20 K","q":1.49,"d":0.01,"f":0.02},
{"s":"20 K","q":1.52,"d":0.00,"f":0.00},{"s":"20 K","q":1.55,"d":-0.05,"f":-0.02},{"s":"20 K","q":1.58,"d":-0.06,"f":-0.04},{"s":"20 K","q":1.61,"d":-0.07,"f":-0.05},{"s":"20 K","q":1.64,"d":-0.09,"f":-0.06},{"s":"20 K","q":1.67,"d":-0.08,"f":-0.07},{"s":"20 K","q":1.70,"d":-0.09,"f":-0.08},{"s":"20 K","q":1.73,"d":-0.10,"f":-0.08},{"s":"20 K","q":1.76,"d":-0.11,"f":-0.08},{"s":"20 K","q":1.79,"d":-0.10,"f":-0.08},
{"s":"20 K","q":1.82,"d":-0.11,"f":-0.07},{"s":"20 K","q":1.85,"d":-0.09,"f":-0.07},{"s":"20 K","q":1.88,"d":-0.07,"f":-0.06},{"s":"20 K","q":1.91,"d":-0.05,"f":-0.05},{"s":"20 K","q":1.94,"d":-0.03,"f":-0.04},{"s":"20 K","q":1.97,"d":-0.04,"f":-0.04},{"s":"20 K","q":2.00,"d":-0.05,"f":-0.03},{"s":"20 K","q":2.03,"d":-0.02,"f":-0.02},{"s":"20 K","q":2.06,"d":-0.01,"f":-0.02},{"s":"20 K","q":2.09,"d":0.00,"f":-0.01},
{"s":"20 K","q":2.12,"d":0.01,"f":-0.01},{"s":"20 K","q":2.15,"d":0.02,"f":0.00},{"s":"20 K","q":2.18,"d":-0.01,"f":0.00},{"s":"20 K","q":2.21,"d":0.01,"f":0.00},{"s":"20 K","q":2.24,"d":0.02,"f":0.00},{"s":"20 K","q":2.27,"d":-0.01,"f":0.00},{"s":"20 K","q":2.30,"d":0.00,"f":0.00},{"s":"20 K","q":2.33,"d":0.01,"f":0.01},{"s":"20 K","q":2.36,"d":-0.01,"f":0.01},{"s":"20 K","q":2.39,"d":0.02,"f":0.01},
{"s":"20 K","q":2.42,"d":0.00,"f":0.01},{"s":"20 K","q":2.45,"d":0.01,"f":0.01},{"s":"20 K","q":2.48,"d":0.03,"f":0.01},{"s":"20 K","q":2.51,"d":0.00,"f":0.02},{"s":"20 K","q":2.54,"d":0.02,"f":0.02},{"s":"20 K","q":2.57,"d":0.04,"f":0.02},{"s":"20 K","q":2.60,"d":0.01,"f":0.02},{"s":"20 K","q":2.63,"d":0.03,"f":0.03},{"s":"20 K","q":2.66,"d":-0.02,"f":0.03},{"s":"20 K","q":2.69,"d":0.04,"f":0.03},
{"s":"20 K","q":2.72,"d":0.06,"f":0.04},{"s":"20 K","q":2.75,"d":0.02,"f":0.04},{"s":"20 K","q":2.78,"d":-0.06,"f":0.04},{"s":"20 K","q":2.81,"d":0.05,"f":0.04},{"s":"20 K","q":2.84,"d":0.03,"f":0.05},{"s":"20 K","q":2.87,"d":0.06,"f":0.05},{"s":"20 K","q":2.90,"d":0.04,"f":0.05},{"s":"20 K","q":2.93,"d":0.07,"f":0.05},{"s":"20 K","q":2.96,"d":0.04,"f":0.05},{"s":"20 K","q":2.99,"d":0.05,"f":0.05},
{"s":"20 K","q":3.03,"d":0.06,"f":0.05},{"s":"20 K","q":3.07,"d":0.03,"f":0.05},{"s":"20 K","q":3.11,"d":0.07,"f":0.05},{"s":"20 K","q":3.15,"d":0.04,"f":0.05},{"s":"20 K","q":3.19,"d":0.02,"f":0.04},{"s":"20 K","q":3.23,"d":0.06,"f":0.04},{"s":"20 K","q":3.27,"d":0.03,"f":0.03},{"s":"20 K","q":3.31,"d":0.00,"f":0.03},{"s":"20 K","q":3.35,"d":0.04,"f":0.02},{"s":"20 K","q":3.39,"d":-0.01,"f":0.02},
{"s":"20 K","q":3.43,"d":0.02,"f":0.01},{"s":"20 K","q":3.47,"d":0.05,"f":0.01},{"s":"20 K","q":3.51,"d":-0.02,"f":0.00},{"s":"20 K","q":3.55,"d":0.01,"f":0.00},{"s":"20 K","q":3.59,"d":-0.03,"f":0.00},{"s":"20 K","q":3.63,"d":0.00,"f":-0.01},{"s":"20 K","q":3.67,"d":0.03,"f":-0.01},{"s":"20 K","q":3.71,"d":-0.02,"f":-0.01},{"s":"20 K","q":3.75,"d":-0.05,"f":-0.01},{"s":"20 K","q":3.79,"d":0.01,"f":-0.01},
{"s":"20 K","q":3.83,"d":-0.02,"f":-0.01},{"s":"20 K","q":3.87,"d":0.02,"f":0.00},{"s":"20 K","q":3.91,"d":-0.03,"f":0.00},{"s":"20 K","q":3.95,"d":0.01,"f":0.00},{"s":"20 K","q":3.99,"d":0.04,"f":0.01},{"s":"20 K","q":4.03,"d":0.02,"f":0.01},{"s":"20 K","q":4.07,"d":0.05,"f":0.01},{"s":"20 K","q":4.11,"d":0.01,"f":0.01},{"s":"20 K","q":4.15,"d":-0.02,"f":0.01},{"s":"20 K","q":4.19,"d":0.03,"f":0.01},
{"s":"20 K","q":4.23,"d":0.06,"f":0.01},{"s":"20 K","q":4.27,"d":0.00,"f":0.01},{"s":"20 K","q":4.31,"d":-0.03,"f":0.01},{"s":"20 K","q":4.35,"d":0.02,"f":0.01},{"s":"20 K","q":4.39,"d":0.05,"f":0.02},{"s":"20 K","q":4.43,"d":0.02,"f":0.02},{"s":"20 K","q":4.47,"d":-0.01,"f":0.02},{"s":"20 K","q":4.51,"d":0.04,"f":0.02},{"s":"20 K","q":4.55,"d":0.07,"f":0.02},{"s":"20 K","q":4.59,"d":0.01,"f":0.02},
{"s":"20 K","q":4.63,"d":0.03,"f":0.02},{"s":"20 K","q":4.67,"d":-0.03,"f":0.02},{"s":"20 K","q":4.71,"d":0.04,"f":0.02},{"s":"20 K","q":4.75,"d":0.02,"f":0.02},{"s":"20 K","q":4.79,"d":0.06,"f":0.02},{"s":"20 K","q":4.83,"d":0.00,"f":0.02},{"s":"20 K","q":4.87,"d":0.03,"f":0.01},{"s":"20 K","q":4.91,"d":0.05,"f":0.01},{"s":"20 K","q":4.95,"d":0.01,"f":0.01},{"s":"20 K","q":4.99,"d":0.03,"f":0.01},
{"s":"20 K","q":5.03,"d":-0.01,"f":0.01},{"s":"20 K","q":5.07,"d":0.02,"f":0.01},{"s":"20 K","q":5.11,"d":0.06,"f":0.01},{"s":"20 K","q":5.15,"d":-0.02,"f":0.01},{"s":"20 K","q":5.19,"d":0.01,"f":0.01},{"s":"20 K","q":5.23,"d":0.04,"f":0.01},{"s":"20 K","q":5.27,"d":0.00,"f":0.01},{"s":"20 K","q":5.31,"d":0.03,"f":0.01},{"s":"20 K","q":5.35,"d":-0.01,"f":0.01},{"s":"20 K","q":5.39,"d":0.05,"f":0.01},
{"s":"20 K","q":5.43,"d":0.02,"f":0.01},{"s":"20 K","q":5.47,"d":0.09,"f":0.01},{"s":"20 K","q":5.51,"d":0.00,"f":0.01},{"s":"20 K","q":5.55,"d":0.03,"f":0.01},{"s":"20 K","q":5.59,"d":-0.02,"f":0.01},{"s":"20 K","q":5.63,"d":0.04,"f":0.01},{"s":"20 K","q":5.67,"d":0.01,"f":0.01},{"s":"20 K","q":5.71,"d":0.06,"f":0.02},{"s":"20 K","q":5.75,"d":0.02,"f":0.02},{"s":"20 K","q":5.79,"d":-0.01,"f":0.02},
{"s":"20 K","q":5.83,"d":0.04,"f":0.02},{"s":"20 K","q":5.87,"d":0.02,"f":0.02},{"s":"20 K","q":5.91,"d":0.06,"f":0.02},{"s":"20 K","q":5.95,"d":0.01,"f":0.02},{"s":"20 K","q":5.99,"d":0.04,"f":0.02},{"s":"20 K","q":6.03,"d":0.07,"f":0.02},{"s":"20 K","q":6.07,"d":0.02,"f":0.02},{"s":"20 K","q":6.11,"d":0.05,"f":0.02},{"s":"20 K","q":6.15,"d":0.00,"f":0.02},{"s":"20 K","q":6.19,"d":0.03,"f":0.02},
{"s":"20 K","q":6.23,"d":0.06,"f":0.02},{"s":"20 K","q":6.27,"d":0.01,"f":0.02},{"s":"20 K","q":6.31,"d":0.04,"f":0.02},{"s":"20 K","q":6.35,"d":-0.01,"f":0.02},{"s":"20 K","q":6.39,"d":0.05,"f":0.02},{"s":"20 K","q":6.43,"d":0.02,"f":0.02},{"s":"20 K","q":6.47,"d":0.06,"f":0.01},{"s":"20 K","q":6.51,"d":0.00,"f":0.01},{"s":"20 K","q":6.55,"d":0.03,"f":0.01},{"s":"20 K","q":6.59,"d":-0.04,"f":0.01},
{"s":"20 K","q":6.63,"d":0.02,"f":0.01},{"s":"20 K","q":6.67,"d":0.05,"f":0.01},{"s":"20 K","q":6.71,"d":0.00,"f":0.01},{"s":"20 K","q":6.75,"d":-0.03,"f":0.01},{"s":"20 K","q":6.79,"d":0.03,"f":0.01},{"s":"20 K","q":6.83,"d":0.01,"f":0.01},{"s":"20 K","q":6.87,"d":0.05,"f":0.01},{"s":"20 K","q":6.91,"d":-0.02,"f":0.00},{"s":"20 K","q":6.95,"d":0.04,"f":0.00},{"s":"20 K","q":6.99,"d":0.02,"f":0.00}
]},
"resolve":{"axis":{"x":"independent","y":"independent"}},
"layer":[
{"transform":[{"filter":"datum.s === '2.2 K'"}],
 "mark":{"type":"point","shape":"circle","filled":false,"size":55,"strokeWidth":1.3,"color":"#ff0000","opacity":1},
 "encoding":{
  "x":{"field":"q","type":"quantitative","scale":{"domain":[0,7],"nice":false,"zero":false},"axis":{"orient":"bottom","values":[0,1,2,3,4,5,6,7],"tickSize":-9,"labelPadding":21,"title":"Q (Å⁻¹)","titlePadding":13,"format":"d","zindex":1}},
  "y":{"field":"d","type":"quantitative","scale":{"domain":[-1.7,4.7],"nice":false,"zero":false},"axis":{"orient":"left","values":[-1,0,1,2,3,4],"tickSize":-9,"labelPadding":26,"title":"Magnetic scattered intensity (barns/str/Gd−atom)","titleFontSize":26,"titlePadding":3,"format":"d","zindex":1}}
 }},
{"transform":[{"filter":"datum.s === '2.2 K'"}],
 "mark":{"type":"line","strokeWidth":2.8},
 "encoding":{
  "x":{"field":"q","type":"quantitative","axis":{"orient":"bottom","values":[0.2,0.4,0.6,0.8,1.2,1.4,1.6,1.8,2.2,2.4,2.6,2.8,3.2,3.4,3.6,3.8,4.2,4.4,4.6,4.8,5.2,5.4,5.6,5.8,6.2,6.4,6.6,6.8],"tickSize":-5,"labels":false,"domain":false,"title":null,"zindex":1}},
  "y":{"field":"f","type":"quantitative","axis":{"orient":"left","values":[-1.6,-1.4,-1.2,-0.8,-0.6,-0.4,-0.2,0.2,0.4,0.6,0.8,1.2,1.4,1.6,1.8,2.2,2.4,2.6,2.8,3.2,3.4,3.6,3.8,4.2,4.4,4.6],"tickSize":-5,"labels":false,"domain":false,"title":null,"zindex":1}},
  "color":{"field":"s","type":"nominal","scale":{"domain":["2.2 K","4.1 K","10 K","20 K"],"range":["#ff0000","#00ff00","#0000ff","#ff00ff"]},"legend":{"title":null,"symbolType":"M-4,0H4"}},
  "strokeDash":{"field":"s","type":"nominal","scale":{"domain":["2.2 K","4.1 K","10 K","20 K"],"range":[[1,0],[12,5],[5,5],[2,4]]},"legend":{"title":null,"symbolType":"M-4,0H4"}}
 }},
{"transform":[{"filter":"datum.s === '4.1 K'"}],
 "mark":{"type":"point","shape":"circle","filled":false,"size":55,"strokeWidth":1.3,"color":"#00ff00","opacity":1},
 "encoding":{
  "x":{"field":"q","type":"quantitative","axis":{"orient":"top","values":[0,1,2,3,4,5,6,7],"tickSize":-9,"labels":false,"title":null,"zindex":1}},
  "y":{"field":"d","type":"quantitative","axis":{"orient":"right","values":[-1,0,1,2,3,4],"tickSize":-9,"labels":false,"title":null,"zindex":1}}
 }},
{"transform":[{"filter":"datum.s === '4.1 K'"}],
 "mark":{"type":"line","strokeWidth":2.8},
 "encoding":{
  "x":{"field":"q","type":"quantitative","axis":{"orient":"top","values":[0.2,0.4,0.6,0.8,1.2,1.4,1.6,1.8,2.2,2.4,2.6,2.8,3.2,3.4,3.6,3.8,4.2,4.4,4.6,4.8,5.2,5.4,5.6,5.8,6.2,6.4,6.6,6.8],"tickSize":-5,"labels":false,"domain":false,"title":null,"zindex":1}},
  "y":{"field":"f","type":"quantitative","axis":{"orient":"right","values":[-1.6,-1.4,-1.2,-0.8,-0.6,-0.4,-0.2,0.2,0.4,0.6,0.8,1.2,1.4,1.6,1.8,2.2,2.4,2.6,2.8,3.2,3.4,3.6,3.8,4.2,4.4,4.6],"tickSize":-5,"labels":false,"domain":false,"title":null,"zindex":1}},
  "color":{"field":"s","type":"nominal","scale":{"domain":["2.2 K","4.1 K","10 K","20 K"],"range":["#ff0000","#00ff00","#0000ff","#ff00ff"]},"legend":{"title":null,"symbolType":"M-4,0H4"}},
  "strokeDash":{"field":"s","type":"nominal","scale":{"domain":["2.2 K","4.1 K","10 K","20 K"],"range":[[1,0],[12,5],[5,5],[2,4]]},"legend":{"title":null,"symbolType":"M-4,0H4"}}
 }},
{"transform":[{"filter":"datum.s === '10 K'"}],
 "mark":{"type":"point","shape":"circle","filled":false,"size":55,"strokeWidth":1.3,"color":"#0000ff","opacity":1},
 "encoding":{
  "x":{"field":"q","type":"quantitative","axis":{"orient":"bottom","values":[1,2,3,4,5,6],"grid":true,"ticks":false,"labels":false,"domain":false,"title":null,"zindex":0}},
  "y":{"field":"d","type":"quantitative","axis":{"orient":"left","values":[-1,0,1,2,3,4],"grid":true,"ticks":false,"labels":false,"domain":false,"title":null,"zindex":0}}
 }},
{"transform":[{"filter":"datum.s === '10 K'"}],
 "mark":{"type":"line","strokeWidth":2.8},
 "encoding":{
  "x":{"field":"q","type":"quantitative","axis":null},
  "y":{"field":"f","type":"quantitative","axis":null},
  "color":{"field":"s","type":"nominal","scale":{"domain":["2.2 K","4.1 K","10 K","20 K"],"range":["#ff0000","#00ff00","#0000ff","#ff00ff"]},"legend":{"title":null,"symbolType":"M-4,0H4"}},
  "strokeDash":{"field":"s","type":"nominal","scale":{"domain":["2.2 K","4.1 K","10 K","20 K"],"range":[[1,0],[12,5],[5,5],[2,4]]},"legend":{"title":null,"symbolType":"M-4,0H4"}}
 }},
{"transform":[{"filter":"datum.s === '20 K'"}],
 "mark":{"type":"point","shape":"circle","filled":false,"size":55,"strokeWidth":1.3,"color":"#ff00ff","opacity":1},
 "encoding":{
  "x":{"field":"q","type":"quantitative","axis":null},
  "y":{"field":"d","type":"quantitative","axis":null}
 }},
{"transform":[{"filter":"datum.s === '20 K'"}],
 "mark":{"type":"line","strokeWidth":2.8},
 "encoding":{
  "x":{"field":"q","type":"quantitative","axis":null},
  "y":{"field":"f","type":"quantitative","axis":null},
  "color":{"field":"s","type":"nominal","scale":{"domain":["2.2 K","4.1 K","10 K","20 K"],"range":["#ff0000","#00ff00","#0000ff","#ff00ff"]},"legend":{"title":null,"symbolType":"M-4,0H4"}},
  "strokeDash":{"field":"s","type":"nominal","scale":{"domain":["2.2 K","4.1 K","10 K","20 K"],"range":[[1,0],[12,5],[5,5],[2,4]]},"legend":{"title":null,"symbolType":"M-4,0H4"}}
 }}
]
}
